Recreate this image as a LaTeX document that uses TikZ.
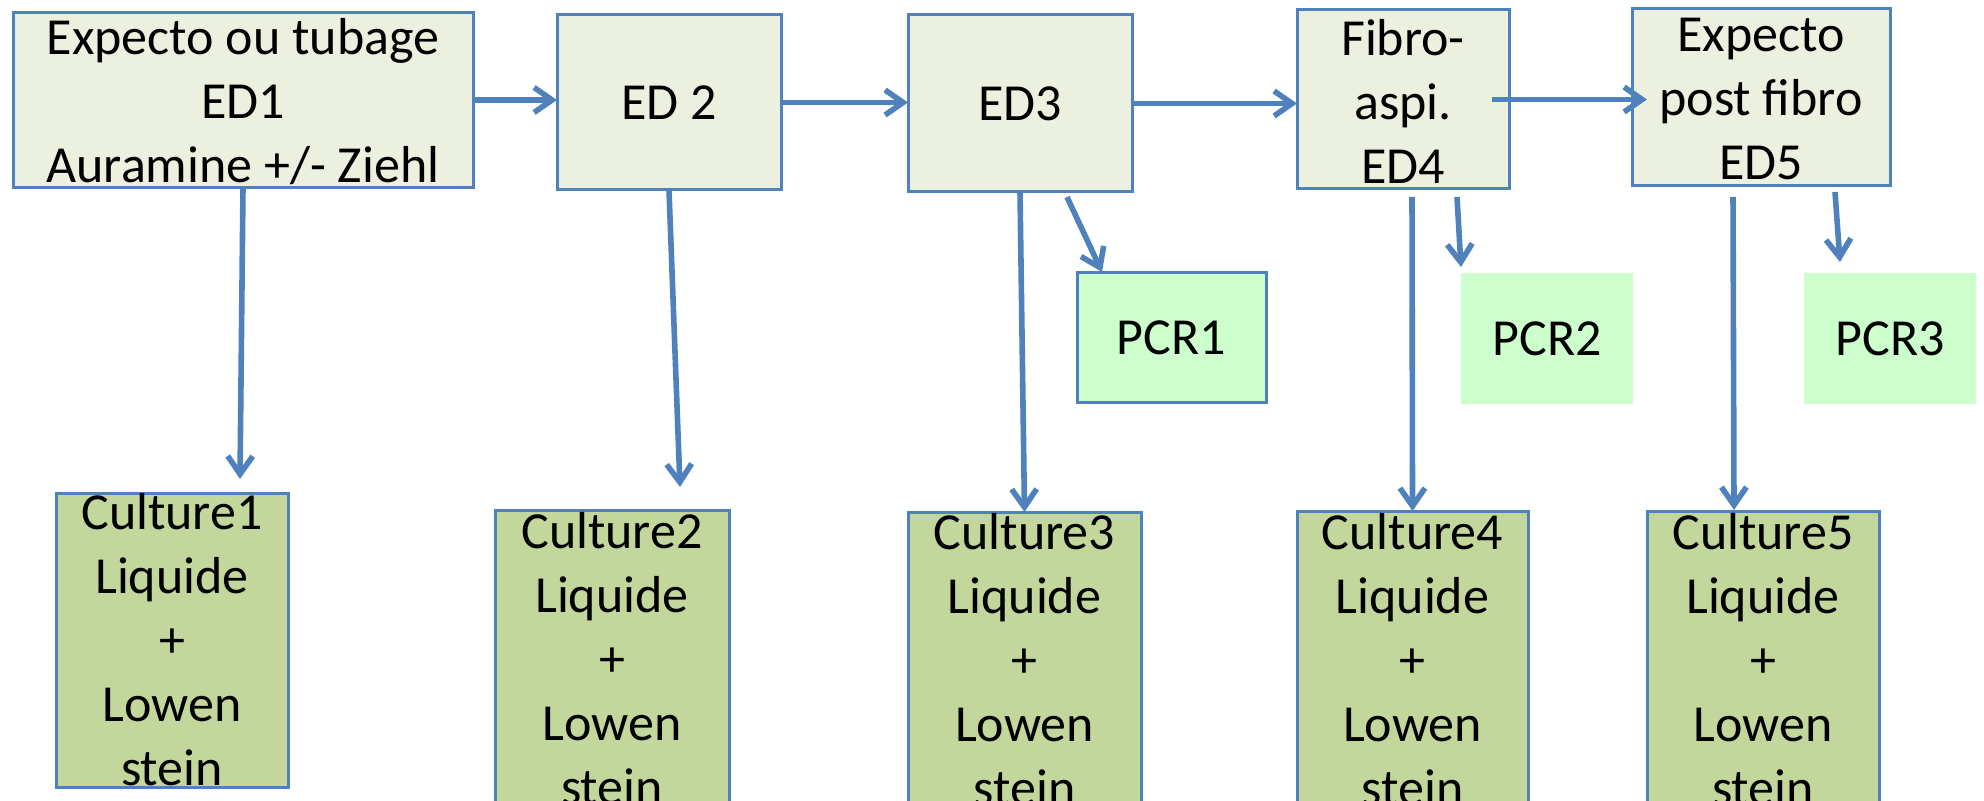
\documentclass[tikz,border=0pt]{standalone}
\usepackage{fontspec}
\setmainfont{Carlito}
\usetikzlibrary{arrows.meta}
\definecolor{lineblue}{HTML}{4F81BD}
\definecolor{edfill}{HTML}{EBF1DE}
\definecolor{culfill}{HTML}{C3D69B}
\definecolor{pcrfill}{HTML}{CCFFCC}
\begin{document}
\begin{tikzpicture}[x=0.5pt,y=-0.5pt,
  boxbase/.style={rectangle, inner sep=0pt, outer sep=0pt},
  sz/.style 2 args={minimum width=#1*0.5pt, minimum height=#2*0.5pt},
  edbox/.style={boxbase, draw=lineblue, line width=1.5pt, fill=edfill},
  culbox/.style={boxbase, draw=lineblue, line width=1.5pt, fill=culfill},
  pcrbox/.style={boxbase, draw=lineblue, line width=1.5pt, fill=pcrfill},
  pcrplain/.style={boxbase, fill=pcrfill},
  txt/.style={align=center, font=\fontsize{26}{32}\selectfont, inner sep=0pt},
  arr/.style={draw=lineblue, line width=2.8pt, -{Straight Barb[length=9pt,width=12.5pt]}}
]
\useasboundingbox (0,0) rectangle (1984,801);
\clip (0,0) rectangle (1984,801);

% top row
\node[edbox, sz={460}{175}] (b1) at (243,100) {};
\node[edbox, sz={224}{175}] (b2) at (669,102.5) {};
\node[edbox, sz={224}{177}] (b3) at (1020,103.5) {};
\node[edbox, sz={212}{179}] (b4) at (1403,99.5) {};
\node[edbox, sz={258}{177}] (b5) at (1761,97.5) {};
\node[txt] (t1) at (243,102) {Expecto ou tubage\\ED1\\Auramine +/- Ziehl};
\node[txt] (t2) at (b2) {ED 2};
\node[txt] (t3) at (b3) {ED3};
\node[txt] (t4) at (1403,101) {Fibro-\\aspi.\\ED4};
\node[txt] (t5) at (1761,99) {Expecto\\post fibro\\ED5};

% PCR
\node[pcrbox, sz={189}{130}] (p1) at (1171.5,338) {};
\node[pcrplain, sz={172}{131}] (p2) at (1547,338.5) {};
\node[pcrplain, sz={172}{131}] (p3) at (1890,338.5) {};
\node[txt] (tp1) at (p1) {PCR1};
\node[txt] (tp2) at (p2) {PCR2};
\node[txt] (tp3) at (p3) {PCR3};

% cultures
\node[culbox, sz={232}{294}] (c1) at (172,640) {};
\node[culbox, sz={234}{298}] (c2) at (612,659) {};
\node[culbox, sz={233}{296}] (c3) at (1024.5,660) {};
\node[culbox, sz={231}{297}] (c4) at (1412.5,659.5) {};
\node[culbox, sz={232}{297}] (c5) at (1763,659.5) {};
\node[txt] (tc1) at (c1) {Culture1\\Liquide\\+\\Lowen\\stein};
\node[txt] (tc2) at (c2) {Culture2\\Liquide\\+\\Lowen\\stein};
\node[txt] (tc3) at (c3) {Culture3\\Liquide\\+\\Lowen\\stein};
\node[txt] (tc4) at (c4) {Culture4\\Liquide\\+\\Lowen\\stein};
\node[txt] (tc5) at (c5) {Culture5\\Liquide\\+\\Lowen\\stein};

% free ends
\coordinate (e1) at (240,479);
\coordinate (e2) at (680,487);
\coordinate (s4) at (1412,197);
\coordinate (s5) at (1733,197);
\coordinate (e5) at (1734,510);
\coordinate (q1s) at (1067,197);
\coordinate (q1e) at (1102,272);
\coordinate (q2s) at (1457,197);
\coordinate (q2e) at (1461,267);
\coordinate (q3s) at (1835,192);
\coordinate (q3e) at (1840,262);

% horizontal arrows
\draw[arr] (b1.east) -- (b1.east -| b2.west);
\draw[arr] (b2.east) -- (b2.east -| b3.west);
\draw[arr] (b3.east) -- (b3.east -| b4.west);
\draw[arr] ([xshift=-8.5pt]b4.east) -- ([xshift=7.5pt]b4.east -| b5.west);

% vertical arrows
\draw[arr] (b1.south) -- (e1);
\draw[arr] (b2.south) -- (e2);
\draw[arr] (b3.south) -- (c3.north);
\draw[arr] (s4) -- (c4.north);
\draw[arr] (s5) -- (e5);

% PCR arrows
\draw[arr] (q1s) -- (q1e);
\draw[arr] (q2s) -- (q2e);
\draw[arr] (q3s) -- (q3e);
\end{tikzpicture}
\end{document}
